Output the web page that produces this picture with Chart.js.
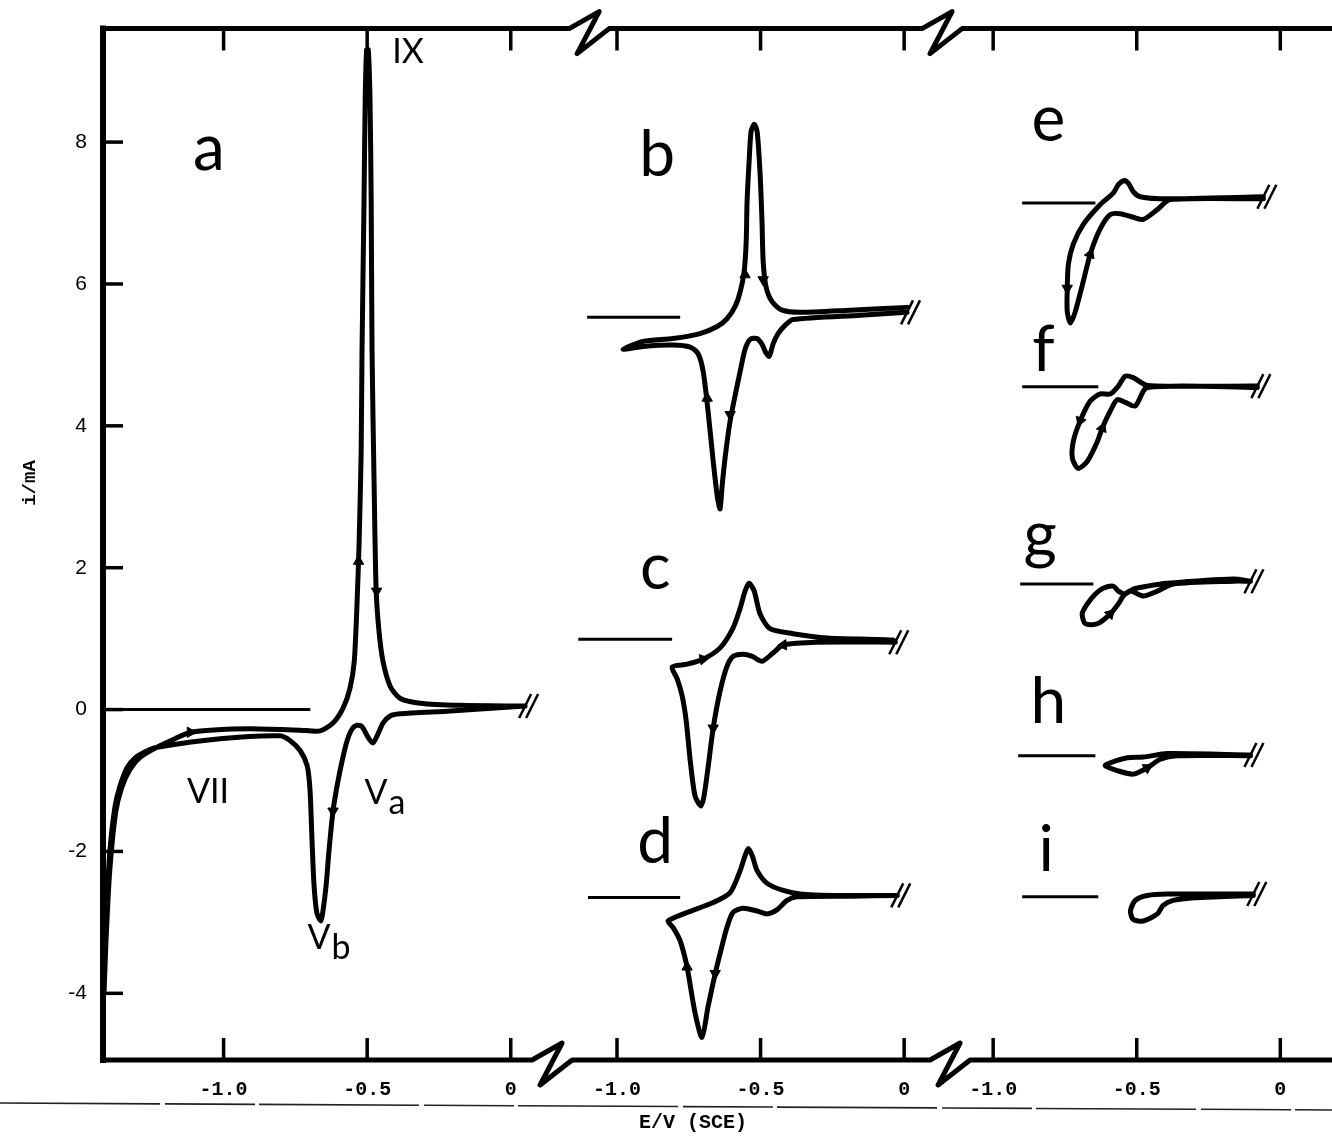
<!DOCTYPE html>
<html lang="en">
<head>
<meta charset="utf-8">
<title>Cyclic voltammograms a - i</title>
<script src="https://cdn.jsdelivr.net/npm/chart.js"></script>
<style>
  html, body { margin: 0; padding: 0; background: #fff; }
  #wrap { position: relative; width: 1332px; height: 1136px; }
</style>
</head>
<body>
<div id="wrap"><canvas id="cv"></canvas></div>
<script>
// the E axis is broken into three sections; each one is shifted along a shared linear axis
const sectionShift = [0, 1.37, 2.68];
const eTicks = [-1.0, -0.5, 0];
const iTicks = [-4, -2, 0, 2, 4, 6, 8];
// where the axis breaks sit (shared axis units)
const breaksTop = [0.273, 1.502];
const breaksBottom = [0.144, 1.530];

// each curve: [E / V, i / mA as plotted], a closed loop starting at its right end
const curveA = [[0.05,0.05],[-0.21,-0.02],[-0.386,-0.06],[-0.42,-0.09],[-0.445,-0.19],[-0.462,-0.34],[-0.48,-0.47],
  [-0.497,-0.39],[-0.518,-0.24],[-0.535,-0.22],[-0.552,-0.27],[-0.57,-0.44],[-0.587,-0.72],[-0.605,-1.08],[-0.619,-1.43],
  [-0.633,-1.99],[-0.643,-2.48],[-0.654,-2.84],[-0.661,-2.98],[-0.675,-2.87],[-0.685,-2.48],[-0.692,-1.85],[-0.699,-1.14],
  [-0.709,-0.79],[-0.733,-0.58],[-0.768,-0.44],[-0.803,-0.37],[-1.012,-0.41],[-1.232,-0.53],[-1.266,-0.58],[-1.308,-0.68],
  [-1.336,-0.82],[-1.361,-1.08],[-1.378,-1.36],[-1.396,-1.99],[-1.406,-2.70],[-1.413,-3.40],[-1.416,-3.96],[-1.41,-3.3],
  [-1.397,-2.3],[-1.376,-1.45],[-1.355,-1.1],[-1.327,-0.85],[-1.29,-0.67],[-1.232,-0.53],[-1.169,-0.41],[-1.116,-0.32],
  [-1.047,-0.29],[-0.907,-0.27],[-0.733,-0.29],[-0.664,-0.30],[-0.619,-0.19],[-0.584,0.02],[-0.56,0.30],[-0.545,0.68],
  [-0.535,1.53],[-0.528,2.37],[-0.521,3.63],[-0.518,5.04],[-0.511,7.16],[-0.507,8.57],[-0.502,9.30],[-0.496,9.30],
  [-0.49,8.57],[-0.486,7.16],[-0.483,5.04],[-0.476,3.22],[-0.469,1.71],[-0.459,1.11],[-0.445,0.68],[-0.42,0.33],
  [-0.386,0.16],[-0.316,0.09],[-0.177,0.06],[0.05,0.05]];
const curveB = [[0.01,5.60],[-0.153,5.56],[-0.387,5.50],[-0.414,5.42],[-0.439,5.30],[-0.456,5.16],[-0.47,4.98],
  [-0.484,5.05],[-0.495,5.15],[-0.512,5.23],[-0.536,5.22],[-0.554,5.08],[-0.571,4.77],[-0.589,4.42],[-0.606,4.07],
  [-0.623,3.57],[-0.634,3.15],[-0.641,2.83],[-0.651,3.01],[-0.665,3.50],[-0.683,4.21],[-0.70,4.77],[-0.718,5.02],
  [-0.745,5.11],[-0.805,5.14],[-0.909,5.12],[-0.979,5.08],[-0.909,5.19],[-0.805,5.23],[-0.711,5.30],[-0.651,5.40],
  [-0.617,5.51],[-0.589,5.68],[-0.571,5.89],[-0.557,6.18],[-0.55,6.60],[-0.547,7.16],[-0.54,7.72],[-0.533,8.15],
  [-0.522,8.25],[-0.512,8.15],[-0.502,7.58],[-0.495,6.88],[-0.491,6.32],[-0.481,5.96],[-0.46,5.75],[-0.425,5.63],
  [-0.362,5.60],[-0.188,5.63],[0.01,5.67]];
const curveC = [[-0.031,0.95],[-0.303,0.95],[-0.421,0.91],[-0.456,0.80],[-0.495,0.68],[-0.529,0.75],[-0.561,0.78],
  [-0.596,0.75],[-0.617,0.61],[-0.641,0.26],[-0.665,-0.26],[-0.683,-0.82],[-0.697,-1.22],[-0.707,-1.36],[-0.728,-1.22],
  [-0.745,-0.72],[-0.759,-0.16],[-0.773,0.19],[-0.79,0.43],[-0.808,0.60],[-0.756,0.64],[-0.70,0.71],[-0.641,0.87],
  [-0.596,1.15],[-0.571,1.43],[-0.554,1.67],[-0.54,1.78],[-0.522,1.67],[-0.502,1.35],[-0.467,1.14],[-0.387,1.07],
  [-0.268,1.01],[-0.038,0.98],[-0.031,0.95]];
const curveD = [[-0.024,-2.62],[-0.188,-2.63],[-0.373,-2.64],[-0.408,-2.69],[-0.442,-2.82],[-0.477,-2.88],[-0.512,-2.84],
  [-0.561,-2.80],[-0.596,-2.86],[-0.617,-3.07],[-0.641,-3.44],[-0.658,-3.72],[-0.683,-4.19],[-0.704,-4.62],[-0.728,-4.28],
  [-0.756,-3.63],[-0.78,-3.26],[-0.805,-3.07],[-0.822,-2.98],[-0.756,-2.86],[-0.665,-2.72],[-0.606,-2.58],[-0.571,-2.27],
  [-0.554,-2.06],[-0.543,-1.96],[-0.529,-2.06],[-0.512,-2.27],[-0.477,-2.45],[-0.421,-2.55],[-0.362,-2.60],[-0.247,-2.62],
  [-0.024,-2.62]];
const curveE = [[-0.059,7.23],[-0.394,7.20],[-0.488,7.23],[-0.512,7.30],[-0.529,7.42],[-0.543,7.46],[-0.564,7.40],
  [-0.582,7.28],[-0.627,7.12],[-0.686,6.84],[-0.721,6.56],[-0.738,6.28],[-0.742,5.94],[-0.742,5.61],[-0.731,5.45],
  [-0.714,5.61],[-0.686,6.04],[-0.662,6.42],[-0.627,6.78],[-0.592,6.98],[-0.557,6.99],[-0.512,6.94],[-0.477,6.91],
  [-0.428,7.05],[-0.383,7.19],[-0.059,7.20]];
const curveF = [[-0.08,4.56],[-0.463,4.57],[-0.512,4.68],[-0.54,4.70],[-0.564,4.56],[-0.592,4.45],[-0.627,4.45],
  [-0.662,4.35],[-0.697,4.07],[-0.721,3.78],[-0.724,3.54],[-0.704,3.40],[-0.672,3.50],[-0.637,3.78],[-0.62,3.97],
  [-0.592,4.21],[-0.568,4.37],[-0.54,4.33],[-0.505,4.28],[-0.463,4.54],[-0.08,4.54]];
const curveG = [[-0.104,1.81],[-0.164,1.84],[-0.394,1.78],[-0.463,1.74],[-0.512,1.70],[-0.54,1.63],[-0.564,1.67],
  [-0.582,1.74],[-0.617,1.71],[-0.644,1.63],[-0.672,1.49],[-0.69,1.35],[-0.679,1.21],[-0.637,1.21],[-0.592,1.35],
  [-0.564,1.49],[-0.547,1.60],[-0.522,1.67],[-0.477,1.60],[-0.428,1.67],[-0.373,1.77],[-0.164,1.81],[-0.104,1.81]];
const curveH = [[-0.104,-0.64],[-0.394,-0.62],[-0.477,-0.67],[-0.533,-0.68],[-0.592,-0.75],[-0.61,-0.79],[-0.568,-0.86],
  [-0.512,-0.91],[-0.463,-0.82],[-0.418,-0.70],[-0.359,-0.65],[-0.104,-0.65]];
const curveI = [[-0.094,-2.60],[-0.394,-2.60],[-0.463,-2.62],[-0.505,-2.69],[-0.522,-2.84],[-0.512,-2.96],[-0.477,-2.98],
  [-0.428,-2.88],[-0.408,-2.76],[-0.373,-2.69],[-0.279,-2.65],[-0.094,-2.62]];

const curveNames = ['a', 'b', 'c', 'd', 'e', 'f', 'g', 'h', 'i'];
const curveSection = [0, 1, 1, 1, 2, 2, 2, 2, 2];
const curveList = [curveA, curveB, curveC, curveD, curveE, curveF, curveG, curveH, curveI];
// short reference (zero) line drawn to the left of every curve
const baseFrom = [-1.413, -1.104, -1.135, -1.101, -0.899, -0.899, -0.906, -0.913, -0.899];
const baseTo = [-0.698, -0.780, -0.808, -0.780, -0.644, -0.634, -0.651, -0.644, -0.634];
const baseLevel = [0, 5.53, 0.99, -2.65, 7.14, 4.55, 1.77, -0.65, -2.64];

// sweep-direction arrowheads: section, E, i, turn in degrees (0 = up)
const arrowSection = [0, 0, 0, 0, 1, 1, 1, 1, 1, 1, 1, 1, 1, 2, 2, 2, 2, 2, 2];
const arrowE = [-0.530, -0.467, -0.619, -1.116, -0.554, -0.491, -0.606, -0.686, -0.700, -0.665, -0.421, -0.658, -0.756,
  -0.742, -0.662, -0.697, -0.620, -0.592, -0.463];
const arrowI = [2.09, 1.67, -1.43, -0.32, 6.13, 6.06, 4.16, 4.39, 0.71, -0.26, 0.91, -3.72, -3.63,
  5.94, 6.42, 4.07, 3.97, 1.35, -0.82];
const arrowTurn = [0, 180, 180, 90, 0, 180, 180, 0, 80, 180, 265, 180, 0, 180, 20, 200, 20, 45, 60];

// text placed on the plot: [text, subscript, section, E, i, size]
const notes = [
  ['a', '', 0, -1.051, 7.61, 'big'], ['b', '', 1, -0.860, 7.52, 'big'], ['c', '', 1, -0.867, 1.70, 'big'],
  ['d', '', 1, -0.867, -2.16, 'big'], ['e', '', 2, -0.808, 8.01, 'big'], ['f', '', 2, -0.825, 4.77, 'big'],
  ['g', '', 2, -0.836, 2.15, 'big'], ['h', '', 2, -0.808, -0.19, 'big'], ['i', '', 2, -0.815, -2.27, 'big'],
  ['IX', '', 0, -0.358, 9.11, 'small'], ['VII', '', 0, -1.054, -1.32, 'small'],
  ['V', 'a', 0, -0.469, -1.33, 'small'], ['V', 'b', 0, -0.668, -3.37, 'small']
];

const toPts = (arr, s) => arr.map(([e, i]) => ({ x: e + sectionShift[s], y: i }));

const datasets = [];
curveNames.forEach((n, k) => {
  const s = curveSection[k];
  datasets.push({
    label: 'zero ' + n,
    data: [{ x: baseFrom[k] + sectionShift[s], y: baseLevel[k] }, { x: baseTo[k] + sectionShift[s], y: baseLevel[k] }],
    borderColor: '#000', borderWidth: 3, pointRadius: 0, showLine: true, tension: 0
  });
});
curveNames.forEach((n, k) => {
  datasets.push({
    label: n,
    data: toPts(curveList[k], curveSection[k]),
    borderColor: '#000', borderWidth: 5, pointRadius: 0, showLine: true, tension: 0.25,
    borderJoinStyle: 'round', borderCapStyle: 'round'
  });
});
datasets.push({
  label: 'arrows',
  data: arrowE.map((e, k) => ({ x: e + sectionShift[arrowSection[k]], y: arrowI[k] })),
  pointStyle: 'triangle', pointRadius: 6, pointRotation: arrowTurn,
  backgroundColor: '#000', borderColor: '#000', borderWidth: 1, showLine: false
});

const xTickValues = [];
sectionShift.forEach(s => eTicks.forEach(t => xTickValues.push(t + s)));

function labelFor(u) {
  let s = 0;
  sectionShift.forEach((v, k) => { if (u > v - 1.2) s = k; });
  const e = u - sectionShift[s];
  return Math.abs(e) < 1e-6 ? '0' : e.toFixed(1);
}

function brokenLine(ctx, x0, x1, yy, cuts) {
  ctx.beginPath();
  ctx.moveTo(x0, yy);
  cuts.forEach(c => {
    ctx.lineTo(c - 20, yy);
    ctx.lineTo(c + 10, yy - 17);
    ctx.lineTo(c - 12, yy + 25);
    ctx.lineTo(c + 20, yy);
  });
  ctx.lineTo(x1, yy);
  ctx.stroke();
}

const decor = {
  id: 'decor',
  afterDraw(chart) {
    const { ctx, chartArea: ca, scales: { x, y } } = chart;
    ctx.save();
    ctx.strokeStyle = '#000';
    ctx.fillStyle = '#000';
    ctx.lineJoin = 'round';
    ctx.lineCap = 'butt';

    // frame with the broken E axes
    ctx.lineWidth = 6;
    ctx.beginPath();
    ctx.moveTo(ca.left, ca.top - 3);
    ctx.lineTo(ca.left, ca.bottom + 3);
    ctx.stroke();
    ctx.lineWidth = 5;
    brokenLine(ctx, ca.left, ca.right, ca.top, breaksTop.map(v => x.getPixelForValue(v)));
    brokenLine(ctx, ca.left, ca.right, ca.bottom, breaksBottom.map(v => x.getPixelForValue(v)));

    // inward ticks
    ctx.lineWidth = 3.5;
    xTickValues.forEach(v => {
      const px = x.getPixelForValue(v);
      ctx.beginPath();
      ctx.moveTo(px, ca.bottom); ctx.lineTo(px, ca.bottom - 22);
      ctx.moveTo(px, ca.top); ctx.lineTo(px, ca.top + 22);
      ctx.stroke();
    });
    iTicks.forEach(v => {
      const py = y.getPixelForValue(v);
      ctx.beginPath();
      ctx.moveTo(ca.left, py); ctx.lineTo(ca.left + 20, py);
      ctx.stroke();
    });

    // "//" marks at the right end of every curve
    ctx.lineWidth = 2.5;
    curveList.forEach((c, k) => {
      const px = x.getPixelForValue(c[0][0] + sectionShift[curveSection[k]]) + 3;
      const py = y.getPixelForValue(c[0][1]);
      [-3, 4].forEach(d => {
        ctx.beginPath();
        ctx.moveTo(px + d - 6, py + 12);
        ctx.lineTo(px + d + 6, py - 12);
        ctx.stroke();
      });
    });

    // letters and peak names
    ctx.textAlign = 'center';
    ctx.textBaseline = 'alphabetic';
    notes.forEach(([t, sub, s, e, i, size]) => {
      const px = x.getPixelForValue(e + sectionShift[s]);
      const py = y.getPixelForValue(i);
      ctx.font = size === 'big' ? '64px Lato' : '34px Lato';
      ctx.fillText(t, px, py);
      if (sub) {
        const w = ctx.measureText(t).width;
        ctx.textAlign = 'left';
        ctx.fillText(sub, px + w / 2 + 1, py + 10);
        ctx.textAlign = 'center';
      }
    });

    // axis titles
    ctx.font = 'bold 20px "Liberation Mono"';
    ctx.fillText('E/V (SCE)', 693, 1128);
    ctx.save();
    ctx.translate(30, 483);
    ctx.rotate(-Math.PI / 2);
    ctx.font = 'bold 19px "Liberation Mono"';
    ctx.textBaseline = 'middle';
    ctx.fillText('i/mA', 0, 0);
    ctx.restore();

    // ruled line under the tick labels
    ctx.lineWidth = 1.6;
    ctx.strokeStyle = '#222';
    ctx.setLineDash([160, 5, 90, 4]);
    ctx.beginPath();
    ctx.moveTo(0, 1103);
    ctx.lineTo(chart.width, 1110);
    ctx.stroke();
    ctx.restore();
  }
};

new Chart(document.getElementById('cv'), {
  type: 'scatter',
  data: { datasets },
  options: {
    responsive: true,
    maintainAspectRatio: false,
    animation: false,
    layout: { autoPadding: false, padding: { top: 27, right: 0, left: 0, bottom: 0 } },
    plugins: { legend: { display: false }, tooltip: { enabled: false } },
    scales: {
      x: {
        type: 'linear', min: -1.42, max: 2.86,
        grid: { display: false, drawTicks: false },
        border: { display: false },
        afterFit: s => { s.height = 76; },
        afterBuildTicks: s => { s.ticks = xTickValues.map(v => ({ value: v })); },
        ticks: {
          color: '#000', padding: 18, maxRotation: 0, autoSkip: false,
          font: { family: 'Liberation Mono', size: 20, weight: 'bold' },
          callback: v => labelFor(v)
        }
      },
      y: {
        type: 'linear', min: -4.94, max: 9.6,
        grid: { display: false, drawTicks: false },
        border: { display: false },
        afterFit: s => { s.width = 103; },
        afterBuildTicks: s => { s.ticks = iTicks.map(v => ({ value: v })); },
        ticks: {
          color: '#000', padding: 16,
          font: { family: 'Liberation Sans', size: 21 },
          callback: v => String(v)
        }
      }
    }
  },
  plugins: [decor]
});
</script>
</body>
</html>
